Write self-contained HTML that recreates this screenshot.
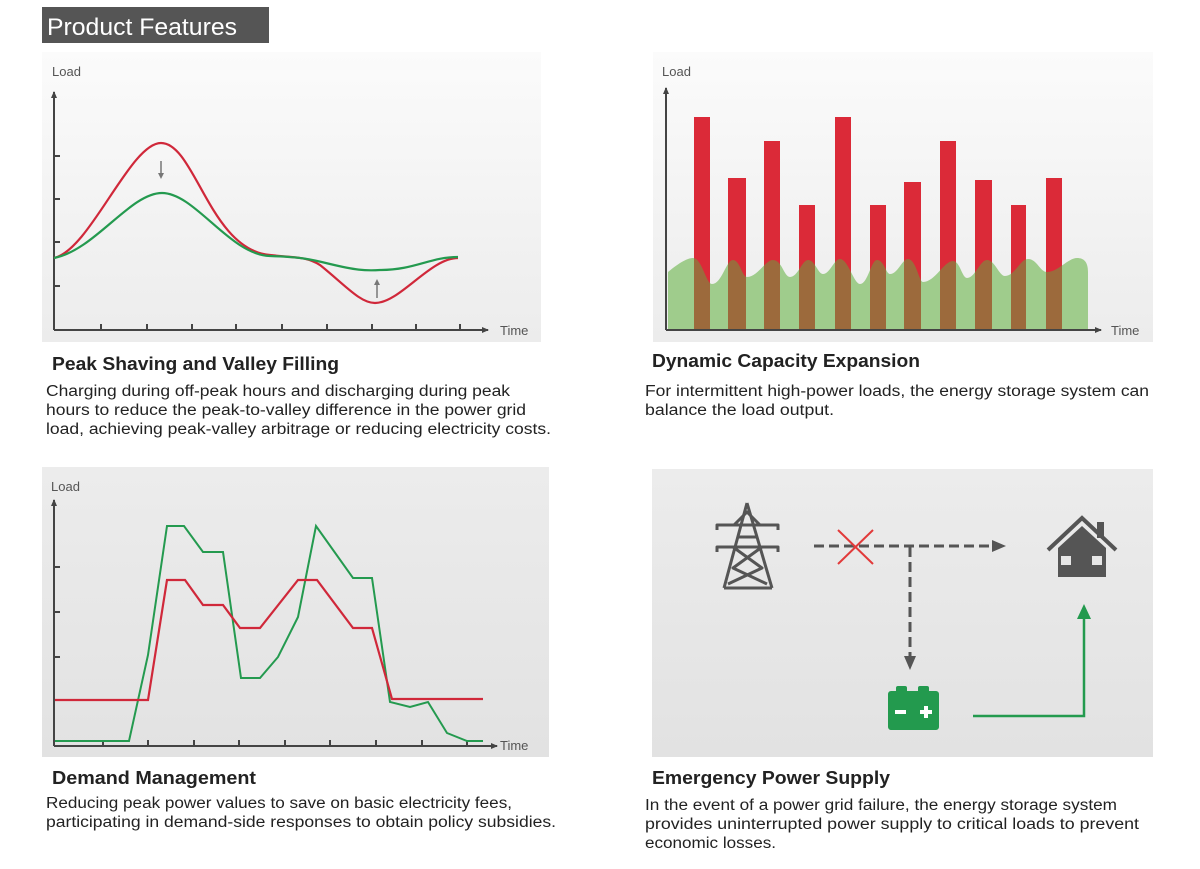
<!DOCTYPE html>
<html><head><meta charset="utf-8"><style>
html,body{margin:0;padding:0;background:#fff;}
svg{display:block;font-family:"Liberation Sans",sans-serif;}
</style></head><body>
<svg width="1200" height="869" viewBox="0 0 1200 869" xmlns="http://www.w3.org/2000/svg">
<defs>
<linearGradient id="g1" x1="0" y1="0" x2="0" y2="1"><stop offset="0" stop-color="#fbfbfb"/><stop offset="1" stop-color="#ececec"/></linearGradient>
<linearGradient id="g3" x1="0" y1="0" x2="0" y2="1"><stop offset="0" stop-color="#ececec"/><stop offset="1" stop-color="#e2e2e2"/></linearGradient>
<marker id="ar" markerWidth="8" markerHeight="8" refX="6" refY="4" orient="auto" markerUnits="userSpaceOnUse"><path d="M0,1 L7,4 L0,7 Z" fill="#444"/></marker>
<clipPath id="gc"><path id="gp" d="M668,272 C680,262 688,258 693,258 C702,258 706,284 712,284 C722,284 726,260 733,260 C740,260 742,277 747,277 C758,277 765,260 773,260 C782,260 784,277 790,277 C798,277 802,260 808,260 C815,260 818,274 823,274 C830,274 834,259 840,259 C848,259 854,284 860,284 C868,284 871,260 877,260 C884,260 886,274 890,274 C898,274 902,259 908,259 C916,259 919,282 923,282 C935,282 944,261 953,261 C960,261 962,278 967,278 C975,278 980,260 987,260 C995,260 999,276 1005,276 C1015,276 1020,259 1028,259 C1037,259 1040,272 1047,272 C1058,272 1068,258 1077,258 C1084,258 1088,262 1088,272 L1088,330 L668,330 Z"/></clipPath>
</defs>

<!-- header -->
<rect x="42" y="7" width="227" height="36" fill="#555"/>
<text x="47" y="35" font-size="24" fill="#fff" textLength="190" lengthAdjust="spacingAndGlyphs">Product Features</text>

<!-- Panel 1 -->
<rect x="42" y="52" width="499" height="290" fill="url(#g1)"/>
<text x="52" y="76" font-size="13" fill="#555">Load</text>
<line x1="54" y1="330" x2="54" y2="92" stroke="#444" stroke-width="2" marker-end="url(#ar)"/>
<line x1="54" y1="330" x2="488" y2="330" stroke="#444" stroke-width="2" marker-end="url(#ar)"/>
<g stroke="#444" stroke-width="2">
<line x1="54" y1="156" x2="60" y2="156"/><line x1="54" y1="199" x2="60" y2="199"/><line x1="54" y1="242" x2="60" y2="242"/><line x1="54" y1="286" x2="60" y2="286"/>
<line x1="101" y1="330" x2="101" y2="324"/><line x1="147" y1="330" x2="147" y2="324"/><line x1="192" y1="330" x2="192" y2="324"/><line x1="236" y1="330" x2="236" y2="324"/><line x1="282" y1="330" x2="282" y2="324"/><line x1="327" y1="330" x2="327" y2="324"/><line x1="372" y1="330" x2="372" y2="324"/><line x1="416" y1="330" x2="416" y2="324"/><line x1="460" y1="330" x2="460" y2="324"/>
</g>
<text x="500" y="335" font-size="13" fill="#555">Time</text>
<path d="M54,258 C90,250 130,143 161,143 C195,143 210,250 270,255 C295,258 305,256 320,265 C345,285 360,303 375,303 C400,303 430,258 458,258" fill="none" stroke="#d0283a" stroke-width="2.2"/>
<path d="M54,258 C95,250 130,193 162,193 C195,193 230,255 270,256 C300,257 310,259 330,264 C355,270 365,271 380,270 C415,270 430,257 458,257" fill="none" stroke="#249a4f" stroke-width="2.2"/>
<line x1="161" y1="161" x2="161" y2="176" stroke="#777" stroke-width="1.5"/><path d="M158,173 L161,179 L164,173 Z" fill="#777"/>
<line x1="377" y1="298" x2="377" y2="283" stroke="#777" stroke-width="1.5"/><path d="M374,285 L377,279 L380,285 Z" fill="#777"/>
<text x="52" y="370" font-size="18" font-weight="bold" fill="#222" textLength="287" lengthAdjust="spacingAndGlyphs">Peak Shaving and Valley Filling</text>
<g font-size="15.5" fill="#222">
<text x="46" y="396" textLength="464" lengthAdjust="spacingAndGlyphs">Charging during off-peak hours and discharging during peak</text>
<text x="46" y="415" textLength="480" lengthAdjust="spacingAndGlyphs">hours to reduce the peak-to-valley difference in the power grid</text>
<text x="46" y="434" textLength="505" lengthAdjust="spacingAndGlyphs">load, achieving peak-valley arbitrage or reducing electricity costs.</text>
</g>

<!-- Panel 2 -->
<rect x="653" y="52" width="500" height="290" fill="url(#g1)"/>
<text x="662" y="76" font-size="13" fill="#555">Load</text>
<use href="#gp" fill="#9fcc8c"/>
<g fill="#db2a38">
<rect x="694" y="117" width="16" height="213"/><rect x="728" y="178" width="18" height="152"/><rect x="764" y="141" width="16" height="189"/><rect x="799" y="205" width="16" height="125"/><rect x="835" y="117" width="16" height="213"/><rect x="870" y="205" width="16" height="125"/><rect x="904" y="182" width="17" height="148"/><rect x="940" y="141" width="16" height="189"/><rect x="975" y="180" width="17" height="150"/><rect x="1011" y="205" width="15" height="125"/><rect x="1046" y="178" width="16" height="152"/>
</g>
<g fill="#9c6a3c" clip-path="url(#gc)">
<rect x="694" y="117" width="16" height="213"/><rect x="728" y="178" width="18" height="152"/><rect x="764" y="141" width="16" height="189"/><rect x="799" y="205" width="16" height="125"/><rect x="835" y="117" width="16" height="213"/><rect x="870" y="205" width="16" height="125"/><rect x="904" y="182" width="17" height="148"/><rect x="940" y="141" width="16" height="189"/><rect x="975" y="180" width="17" height="150"/><rect x="1011" y="205" width="15" height="125"/><rect x="1046" y="178" width="16" height="152"/>
</g>
<line x1="666" y1="330" x2="666" y2="88" stroke="#444" stroke-width="2" marker-end="url(#ar)"/>
<line x1="666" y1="330" x2="1101" y2="330" stroke="#444" stroke-width="2" marker-end="url(#ar)"/>
<text x="1111" y="335" font-size="13" fill="#555">Time</text>
<text x="652" y="367" font-size="18" font-weight="bold" fill="#222" textLength="268" lengthAdjust="spacingAndGlyphs">Dynamic Capacity Expansion</text>
<g font-size="15.5" fill="#222">
<text x="645" y="396" textLength="504" lengthAdjust="spacingAndGlyphs">For intermittent high-power loads, the energy storage system can</text>
<text x="645" y="415" textLength="189" lengthAdjust="spacingAndGlyphs">balance the load output.</text>
</g>

<!-- Panel 3 -->
<rect x="42" y="467" width="507" height="290" fill="url(#g3)"/>
<text x="51" y="491" font-size="13" fill="#555">Load</text>
<line x1="54" y1="746" x2="54" y2="500" stroke="#444" stroke-width="2" marker-end="url(#ar)"/>
<line x1="54" y1="746" x2="497" y2="746" stroke="#444" stroke-width="2" marker-end="url(#ar)"/>
<g stroke="#444" stroke-width="2">
<line x1="54" y1="567" x2="60" y2="567"/><line x1="54" y1="612" x2="60" y2="612"/><line x1="54" y1="657" x2="60" y2="657"/><line x1="54" y1="700" x2="60" y2="700"/>
<line x1="103" y1="746" x2="103" y2="740"/><line x1="148" y1="746" x2="148" y2="740"/><line x1="194" y1="746" x2="194" y2="740"/><line x1="239" y1="746" x2="239" y2="740"/><line x1="285" y1="746" x2="285" y2="740"/><line x1="330" y1="746" x2="330" y2="740"/><line x1="376" y1="746" x2="376" y2="740"/><line x1="422" y1="746" x2="422" y2="740"/><line x1="467" y1="746" x2="467" y2="740"/>
</g>
<text x="500" y="750" font-size="13" fill="#555">Time</text>
<polyline points="55,741 129,741 148,655 167,526 184,526 203,552 223,552 241,678 260,678 278,657 298,617 316,526 353,578 372,578 390,702 410,707 428,702 447,733 467,741 483,741" fill="none" stroke="#249a4f" stroke-width="2"/>
<polyline points="55,700 148,700 167,580 185,580 203,605 223,605 240,628 260,628 298,580 317,580 353,628 372,628 392,699 483,699" fill="none" stroke="#d0283a" stroke-width="2.2"/>
<text x="52" y="784" font-size="18" font-weight="bold" fill="#222" textLength="204" lengthAdjust="spacingAndGlyphs">Demand Management</text>
<g font-size="15.5" fill="#222">
<text x="46" y="808" textLength="466" lengthAdjust="spacingAndGlyphs">Reducing peak power values to save on basic electricity fees,</text>
<text x="46" y="827" textLength="510" lengthAdjust="spacingAndGlyphs">participating in demand-side responses to obtain policy subsidies.</text>
</g>

<!-- Panel 4 -->
<rect x="652" y="469" width="501" height="288" fill="url(#g3)"/>
<!-- tower -->
<g stroke="#555" stroke-width="3" fill="none" stroke-linejoin="round">
<path d="M747,503 L724,588 M747,503 L772,588"/>
<path d="M717,530 L717,525 L778,525 L778,530"/>
<path d="M717,552 L717,547 L778,547 L778,552"/>
<path d="M734,525 L747,512 L760,525"/>
<line x1="737" y1="537" x2="758" y2="537"/>
<path d="M733,547 L762,568 L728,584 M762,547 L733,568 L767,584"/>
<line x1="724" y1="588" x2="772" y2="588"/>
</g>
<line x1="814" y1="546" x2="992" y2="546" stroke="#555" stroke-width="3" stroke-dasharray="10,5"/>
<path d="M992,540 L1006,546 L992,552 Z" fill="#555"/>
<line x1="910" y1="547" x2="910" y2="658" stroke="#555" stroke-width="3" stroke-dasharray="10,5"/>
<path d="M904,656 L910,670 L916,656 Z" fill="#555"/>
<g stroke="#e23a3a" stroke-width="2"><line x1="838" y1="530" x2="873" y2="564"/><line x1="873" y1="530" x2="838" y2="564"/></g>
<!-- house -->
<path d="M1048,550 L1082,518 L1116,550" fill="none" stroke="#555" stroke-width="4"/>
<rect x="1097" y="522" width="7" height="16" fill="#555"/>
<path d="M1058,548 L1082,526 L1106,548 L1106,577 L1058,577 Z" fill="#555"/>
<rect x="1061" y="556" width="10" height="9" fill="#e6e6e6"/><rect x="1092" y="556" width="10" height="9" fill="#e6e6e6"/>
<!-- battery -->
<rect x="896" y="686" width="11" height="7" rx="2" fill="#239a4e"/><rect x="918" y="686" width="11" height="7" rx="2" fill="#239a4e"/>
<rect x="888" y="691" width="51" height="39" rx="3" fill="#239a4e"/>
<rect x="895" y="710" width="11" height="4" fill="#fff"/>
<rect x="920" y="710" width="12" height="4" fill="#fff"/><rect x="924" y="706" width="4" height="12" fill="#fff"/>
<polyline points="973,716 1084,716 1084,617" fill="none" stroke="#239a4e" stroke-width="2.5"/>
<path d="M1077,619 L1084,604 L1091,619 Z" fill="#239a4e"/>
<text x="652" y="784" font-size="18" font-weight="bold" fill="#222" textLength="238" lengthAdjust="spacingAndGlyphs">Emergency Power Supply</text>
<g font-size="15.5" fill="#222">
<text x="645" y="810" textLength="472" lengthAdjust="spacingAndGlyphs">In the event of a power grid failure, the energy storage system</text>
<text x="645" y="829" textLength="494" lengthAdjust="spacingAndGlyphs">provides uninterrupted power supply to critical loads to prevent</text>
<text x="645" y="848" textLength="131" lengthAdjust="spacingAndGlyphs">economic losses.</text>
</g>
</svg>
</body></html>
